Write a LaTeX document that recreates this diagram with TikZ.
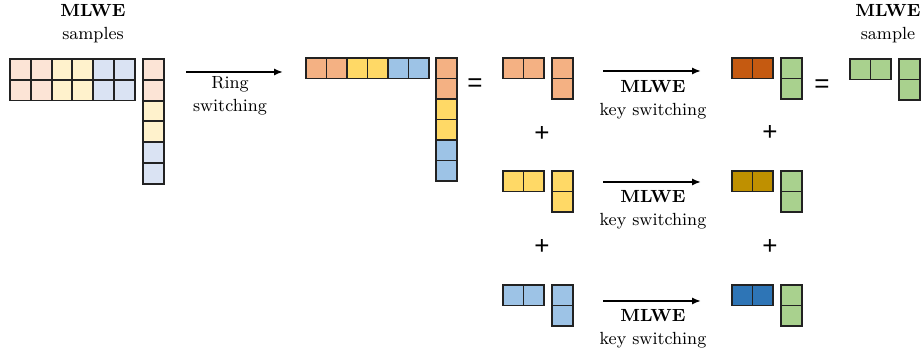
\documentclass[tikz,border=0pt]{standalone}
\usepackage{fontspec}
\newfontfamily\symfont{Liberation Sans}
\usetikzlibrary{arrows.meta}
\definecolor{lpink}{HTML}{FCE4D6}
\definecolor{lyel}{HTML}{FFF2CC}
\definecolor{lblu}{HTML}{DAE3F3}
\definecolor{mora}{HTML}{F4B183}
\definecolor{myel}{HTML}{FFD966}
\definecolor{mblu}{HTML}{9DC3E6}
\definecolor{dora}{HTML}{C55A11}
\definecolor{dyel}{HTML}{BF9000}
\definecolor{dblu}{HTML}{2E75B6}
\definecolor{grn}{HTML}{A9D18E}
\definecolor{edge}{HTML}{222222}
\tikzset{
  cell/.style={draw=edge, line width=0.9pt, rectangle, inner sep=0pt, minimum width=10.3pt, minimum height=10.3pt},
  lbl/.style={align=center, font=\fontsize{8.8}{11.5}\selectfont, inner sep=0pt},
  sym/.style={font=\symfont\fontsize{13}{13}\selectfont, inner sep=0pt},
  arr/.style={-{Latex[length=4.5pt,width=3.6pt]}, line width=0.9pt, draw=black}
}
\begin{document}
\begin{tikzpicture}[x=0.5pt,y=-0.5pt]
\useasboundingbox (0,0) rectangle (923,356);
% Matrix 1 (light)
\foreach \c/\col in {0/lpink,1/lpink,2/lyel,3/lyel,4/lblu,5/lblu}{
  \foreach \r in {0,1}{
    \node[cell, fill=\col] (ma\r c\c) at ({10+10.4+20.8*\c},{59+10.4+20.8*\r}) {};
  }
  \node[cell, fill=\col] (va\c) at (153.5,{59+10.4+20.8*\c}) {};
}
\node[lbl] (t1) at (93,24) {\textbf{MLWE}\\samples};
% Ring switching arrow
\coordinate (a1s) at (186,72);
\coordinate (a1e) at (283,72);
\draw[arr] (a1s) -- (a1e);
\node[lbl] (t2) at (230,96) {Ring\\switching};
% Matrix 2 (medium)
\foreach \c/\col in {0/mora,1/mora,2/myel,3/myel,4/mblu,5/mblu}{
  \node[cell, fill=\col] (mb\c) at ({306+10.3+20.5*\c},68.3) {};
  \node[cell, fill=\col] (vb\c) at (446.3,{58+10.3+20.5*\c}) {};
}
\node[sym] (eq1) at (475,85) {=};
% Three rows of small pairs
\foreach \k/\y/\col/\dcol in {0/58/mora/dora,1/171/myel/dyel,2/285/mblu/dblu}{
  \node[cell, fill=\col] (s\k a) at (513.3,{\y+10.3}) {};
  \node[cell, fill=\col] (s\k b) at (533.8,{\y+10.3}) {};
  \node[cell, fill=\col] (s\k c) at (562.3,{\y+10.3}) {};
  \node[cell, fill=\col] (s\k d) at (562.3,{\y+30.8}) {};
  \node[cell, fill=\dcol] (d\k a) at (742.3,{\y+10.3}) {};
  \node[cell, fill=\dcol] (d\k b) at (762.8,{\y+10.3}) {};
  \node[cell, fill=grn] (d\k c) at (791.3,{\y+10.3}) {};
  \node[cell, fill=grn] (d\k d) at (791.3,{\y+30.8}) {};
}
% Key switching arrows
\coordinate (k0s) at (603,71);  \coordinate (k0e) at (701,71);
\coordinate (k1s) at (603,182); \coordinate (k1e) at (701,182);
\coordinate (k2s) at (603,301); \coordinate (k2e) at (701,301);
\draw[arr] (k0s) -- (k0e);
\draw[arr] (k1s) -- (k1e);
\draw[arr] (k2s) -- (k2e);
\node[lbl] (kt0) at (653,100) {\textbf{MLWE}\\key switching};
\node[lbl] (kt1) at (653,210) {\textbf{MLWE}\\key switching};
\node[lbl] (kt2) at (653,329) {\textbf{MLWE}\\key switching};
% plus signs
\node[sym] (p1) at (542,134) {+};
\node[sym] (p2) at (542,247) {+};
\node[sym] (p3) at (770,133) {+};
\node[sym] (p4) at (770,247) {+};
\node[sym] (eq2) at (822,86) {=};
% Result
\node[cell, fill=grn] (ra) at (860.3,69.3) {};
\node[cell, fill=grn] (rb) at (880.8,69.3) {};
\node[cell, fill=grn] (rc) at (909.3,69.3) {};
\node[cell, fill=grn] (rd) at (909.3,89.8) {};
\node[lbl] (t3) at (888,24) {\textbf{MLWE}\\sample};
\end{tikzpicture}
\end{document}
